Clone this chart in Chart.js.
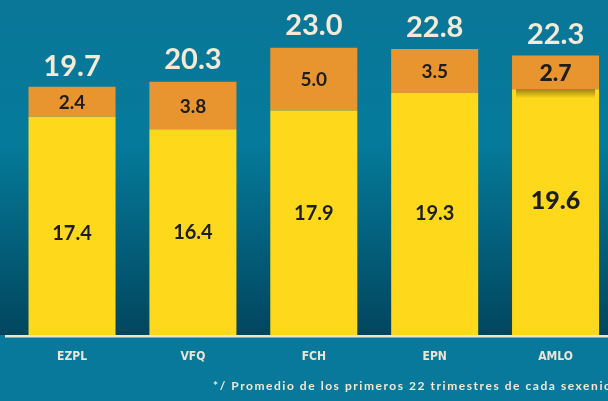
<!DOCTYPE html>
<html>
<head>
<meta charset="utf-8">
<script src="https://cdn.jsdelivr.net/npm/chart.js@4"></script>
<style>
  html, body { margin:0; padding:0; background:#08799a; overflow:hidden; }
  #wrap { position:relative; width:608px; height:401px; overflow:hidden; }
  #wrap canvas { position:absolute; left:0; top:0; }
  #note { position:absolute; left:213px; top:378px; white-space:nowrap;
    font:bold 12px Lato, "DejaVu Sans", sans-serif; color:#f1e8d6; letter-spacing:1.55px; }
</style>
</head>
<body>
<div id="wrap">
  <canvas id="c" width="616" height="401" style="width:616px;height:401px"></canvas>
  <div id="note">*/ Promedio de los primeros 22 trimestres de cada sexenio</div>
</div>
<script>
// ── Data ────────────────────────────────────────────────────
const labels = ['EZPL', 'VFQ', 'FCH', 'EPN', 'AMLO'];
const base   = [17.4, 16.4, 17.9, 19.3, 19.6];   // yellow segment
const extra  = [2.4, 3.8, 5.0, 3.5, 2.7];        // orange segment
const totals = [19.7, 20.3, 23.0, 22.8, 22.3];   // label above bar

const C = { yellow:'#fdd81b', orange:'#e9952f', cream:'#f3ead8', ink:'#1d1d1b' };
const FONT = 'Lato, "DejaVu Sans", sans-serif';
// vertical nudge of the yellow-segment labels (px), as laid out in the original
const nudge = [8, 0, -9, 0, -11];

// background + axis line
const bgPlugin = {
  id:'bg',
  beforeDraw(chart) {
    const { ctx, width, height, chartArea:a } = chart;
    ctx.save();
    ctx.fillStyle = '#08799a';
    ctx.fillRect(0, 0, width, height);
    const g = ctx.createLinearGradient(0, 0, 0, a.bottom);
    g.addColorStop(0, '#0a7698');
    g.addColorStop(0.42, '#057b9b');
    g.addColorStop(1, '#01465e');
    ctx.fillStyle = g;
    ctx.fillRect(0, 0, width, a.bottom);
    ctx.restore();
  },
  afterDatasetsDraw(chart) {
    const { ctx, width, chartArea:a } = chart;
    ctx.save();
    // soft shadow under the highlighted (last) bar's orange block
    const bar = chart.getDatasetMeta(0).data[labels.length - 1];
    const g = ctx.createLinearGradient(0, bar.y, 0, bar.y + 9);
    g.addColorStop(0, 'rgba(90,60,10,0.55)');
    g.addColorStop(1, 'rgba(90,60,10,0)');
    ctx.fillStyle = g;
    ctx.fillRect(bar.x - bar.width / 2 + 4, bar.y, bar.width - 8, 9);
    ctx.fillStyle = '#efe5cf';
    ctx.fillRect(5, a.bottom, width, 2.5);
    ctx.restore();
  }
};

// value labels, totals and categories
const labelPlugin = {
  id:'labels',
  afterDraw(chart) {
    const { ctx } = chart;
    const x = chart.scales.x, y = chart.scales.y;
    ctx.save();
    ctx.textAlign = 'center';
    ctx.textBaseline = 'middle';
    labels.forEach((lab, i) => {
      const cx = x.getPixelForValue(i);
      const last = i === labels.length - 1;
      // yellow segment
      ctx.fillStyle = C.ink;
      ctx.font = (last ? '900 25px ' : 'bold 20px ') + FONT;
      ctx.fillText(base[i].toFixed(1), cx, (y.getPixelForValue(0) + y.getPixelForValue(base[i])) / 2 + nudge[i]);
      // orange segment
      ctx.font = (last ? '900 23px ' : 'bold 19px ') + FONT;
      ctx.fillText(extra[i].toFixed(1), cx, (y.getPixelForValue(base[i]) + y.getPixelForValue(base[i] + extra[i])) / 2 + 1);
      // total
      ctx.fillStyle = C.cream;
      ctx.font = 'bold 29px ' + FONT;
      ctx.fillText(totals[i].toFixed(1), cx, y.getPixelForValue(totals[i]) - 21);
      // category
      ctx.font = 'bold 12px "Liberation Sans Narrow", "DejaVu Sans Condensed", sans-serif';
      ctx.fillStyle = '#ece5d6';
      ctx.fillText(lab, cx, 357);
    });
    ctx.restore();
  }
};

new Chart(document.getElementById('c'), {
  type:'bar',
  data:{
    labels,
    datasets:[
      { label:'base',  data:base,  backgroundColor:C.yellow, borderWidth:0 },
      { label:'extra', data:extra, backgroundColor:C.orange, borderWidth:0 },
    ]
  },
  options:{
    responsive:false, animation:false,
    layout:{ padding:{ left:11.6, right:0, top:9, bottom:66 } },
    datasets:{ bar:{ categoryPercentage:1, barPercentage:0.72 } },
    plugins:{ legend:{ display:false }, tooltip:{ enabled:false } },
    scales:{
      x:{ stacked:true, display:false },
      y:{ stacked:true, display:false, min:0, max:26 },
    }
  },
  plugins:[bgPlugin, labelPlugin]
});
</script>
</body>
</html>
